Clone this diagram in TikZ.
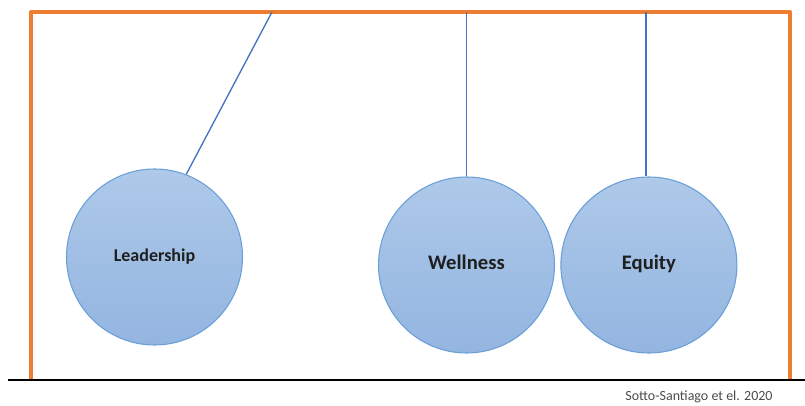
\documentclass[tikz,border=0pt]{standalone}
\usepackage{fontspec}
\setmainfont{Carlito}
\usetikzlibrary{positioning}

\definecolor{frameorange}{HTML}{ED7D31}
\definecolor{ballline}{HTML}{6A9FD8}
\definecolor{balltop}{HTML}{AEC9E9}
\definecolor{ballbottom}{HTML}{93B5E0}
\definecolor{wireblue}{HTML}{4472C4}

\tikzset{
    ball/.style={circle, draw=ballline, line width=0.8pt, top color=balltop, bottom color=ballbottom,
        minimum size=132pt, inner sep=0pt, text height=1.6ex, text depth=0.2ex,
        text=black!88, font=\bfseries\fontsize{15.5}{18}\selectfont},
    wire/.style={draw=wireblue, line width=1pt}
}

\begin{document}
\begin{tikzpicture}[x=0.75pt, y=-0.75pt]
    \useasboundingbox (0,0) rectangle (805,406);
    % Frame and floor
    \draw[frameorange, line width=3pt, line join=round] (31,380) -- (31,12) -- (790,12) -- (790,380);
    \draw[line width=1.8pt] (8,380) -- (805,380);
    % Balls
    \node[ball, font=\bfseries\fontsize{13.5}{16}\selectfont] (leadership) at (154.5,257) {Leadership};
    \node[ball] (wellness) at (466.5,265) {Wellness};
    \node[ball, right=4pt of wellness] (equity) {Equity};
    % Strings
    \coordinate (hookL) at (272,12);
    \coordinate (hookW) at (466.5,12);
    \coordinate (hookE) at (646,12);
    \draw[wire] (hookL) -- (leadership.69);
    \draw[wire] (hookW) -- (wellness.north);
    \draw[wire] (hookE) -- (hookE |- equity.north);
    % Source
    \node[text=black!70, font=\fontsize{10.5}{12}\selectfont] (source) at (699,397) {Sotto-Santiago et el. 2020};
\end{tikzpicture}
\end{document}
